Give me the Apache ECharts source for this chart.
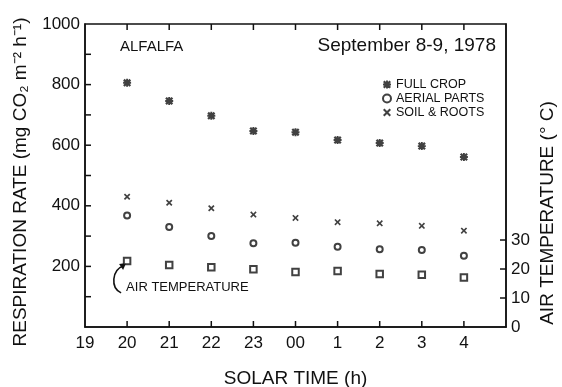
<!DOCTYPE html>
<html><head><meta charset="utf-8">
<script src="https://cdn.jsdelivr.net/npm/echarts@6/dist/echarts.min.js"></script>
<style>html,body{margin:0;padding:0;background:#fff}#c{width:562px;height:387px}</style>
</head><body><div id="c"></div>
<script>
// Data
var hours = [20, 21, 22, 23, 24, 25, 26, 27, 28];
var hourLabels = ['19','20','21','22','23','00','1','2','3','4'];
var fullCrop = [806, 746, 697, 647, 643, 617, 607, 597, 561];
var aerialParts = [368, 330, 300, 276, 278, 265, 257, 254, 235];
var soilRoots = [430, 410, 392, 371, 360, 346, 342, 334, 318];
var airTemp = [22.8, 21.4, 20.6, 19.9, 19.0, 19.3, 18.3, 18.0, 17.1];
var leftTicks = [200, 400, 600, 800, 1000];
var leftTickMarks = [100, 200, 300, 400, 500, 600, 700, 800, 900];
var rightTicks = [0, 10, 20, 30];
var rightTickMarks = [10, 20, 30];

var FONT = 'Liberation Sans, Arial, Helvetica, sans-serif';
var INK = '#111';
var starPath = 'path://M0,2 L2,0 L5,3 L8,0 L10,2 L7,5 L10,8 L8,10 L5,7 L2,10 L0,8 L3,5 Z M3.8,0 L6.2,0 L6.2,3.8 L10,3.8 L10,6.2 L6.2,6.2 L6.2,10 L3.8,10 L3.8,6.2 L0,6.2 L0,3.8 L3.8,3.8 Z';
var xPath = 'path://M0,1.8 L1.8,0 L5,3.2 L8.2,0 L10,1.8 L6.8,5 L10,8.2 L8.2,10 L5,6.8 L1.8,10 L0,8.2 L3.2,5 Z';

function pairs(vals){ return hours.map(function(h,i){ return [h, vals[i]]; }); }

var chart = echarts.init(document.getElementById('c'), null, {renderer:'canvas'});
function lineStyle(){ return {color: INK, width: 1.5}; }
var option = {
  animation: false,
  backgroundColor: '#fff',
  textStyle: {fontFamily: FONT, color: INK},
  grid: {left: 85, right: 56, top: 24, bottom: 60, show: true, borderColor: INK, borderWidth: 1.5,
    outerBoundsMode: 'none', containLabel: false},
  legend: {
    orient: 'vertical', left: 377, top: 73, itemGap: 1, itemWidth: 8, itemHeight: 8,
    textStyle: {fontFamily: FONT, fontSize: 12.5, color: INK},
    data: [
      {name: 'FULL CROP', icon: starPath},
      {name: 'AERIAL PARTS', icon: 'emptyCircle'},
      {name: 'SOIL & ROOTS', icon: xPath}
    ]
  },
  xAxis: {
    type: 'value', min: 19, max: 29, interval: 1, position: 'bottom',
    axisLine: {show: true, onZero: false, lineStyle: lineStyle()},
    axisTick: {show: false},
    axisLabel: {show: true, margin: 8, fontSize: 17, color: INK, fontFamily: FONT,
      formatter: function(v){ var i = Math.round(v) - 19; return i < hourLabels.length ? hourLabels[i] : ''; }},
    splitLine: {show: false},
    name: 'SOLAR TIME (h)', nameLocation: 'middle', nameGap: 42,
    nameTextStyle: {fontSize: 19, color: INK, fontFamily: FONT}
  },
  yAxis: [{
    type: 'value', min: 0, max: 1000, interval: 200, position: 'left',
    axisLine: {show: true, onZero: false, lineStyle: lineStyle()},
    axisTick: {show: false}, minorTick: {show: false},
    axisLabel: {margin: 5, fontSize: 17, color: INK, fontFamily: FONT,
      formatter: function(v){ return leftTicks.indexOf(v) >= 0 ? String(v) : ''; }},
    splitLine: {show: false}, minorSplitLine: {show: false}
  }, {
    type: 'value', min: 0, max: 104.5, interval: 10, position: 'right',
    axisLine: {show: true, onZero: false, lineStyle: lineStyle()},
    axisTick: {show: false},
    axisLabel: {margin: 5, fontSize: 17, color: INK, fontFamily: FONT,
      formatter: function(v){ return rightTicks.indexOf(v) >= 0 ? String(v) : ''; }},
    splitLine: {show: false}
  }],
  series: [{
    name: 'FULL CROP', type: 'scatter', symbol: starPath, symbolSize: 8,
    itemStyle: {color: INK}, data: pairs(fullCrop)
  }, {
    name: 'AERIAL PARTS', type: 'scatter', symbol: 'emptyCircle', symbolSize: 6,
    itemStyle: {color: INK, borderColor: INK, borderWidth: 1.6}, data: pairs(aerialParts)
  }, {
    name: 'SOIL & ROOTS', type: 'scatter', symbol: xPath, symbolSize: 6.5,
    itemStyle: {color: INK}, data: pairs(soilRoots)
  }, {
    name: 'AIR TEMPERATURE', type: 'scatter', yAxisIndex: 1, symbol: 'emptyRect', symbolSize: 6.5,
    itemStyle: {color: INK, borderColor: INK, borderWidth: 1.6}, data: pairs(airTemp)
  }]
};
chart.setOption(option);

// positions derived from the axes
function px(x, y, yi){ return chart.convertToPixel({xAxisIndex: 0, yAxisIndex: yi || 0}, [x, y]); }
var p0 = px(hours[0], airTemp[0], 1);
var boxTL = px(19, 1000);
var boxBR = px(29, 0);
var TL = 6;
var ticks = [];
function tick(x1, y1, x2, y2){
  ticks.push({type: 'line', silent: true, z: 50,
    shape: {x1: x1, y1: y1, x2: x2, y2: y2}, style: {stroke: INK, lineWidth: 1.5}});
}
hours.forEach(function(h){
  var b = px(h, 0); tick(b[0], b[1], b[0], b[1] - TL);
  var t = px(h, 1000); tick(t[0], t[1], t[0], t[1] + TL);
});
leftTickMarks.forEach(function(v){
  var l = px(19, v); tick(l[0], l[1], l[0] + TL, l[1]);
});
rightTickMarks.forEach(function(v){
  var r = px(29, v, 1); tick(r[0], r[1], r[0] - TL, r[1]);
});

chart.setOption({
  graphic: ticks.concat([
    {type: 'text', left: boxTL[0] + 35, top: boxTL[1] + 15,
      style: {text: 'ALFALFA', font: '15px ' + FONT, fill: INK}},
    {type: 'text', right: 562 - boxBR[0] + 10, top: boxTL[1] + 12,
      style: {text: 'September 8-9, 1978', font: '19px ' + FONT, fill: INK}},
    {type: 'text', x: 21, y: 182, rotation: Math.PI / 2,
      style: {text: 'RESPIRATION RATE (mg CO\u2082 m\u207B\u00B2 h\u207B\u00B9)', font: '19px ' + FONT, fill: INK, align: 'center', verticalAlign: 'middle'}},
    {type: 'text', x: 548, y: 213, rotation: Math.PI / 2,
      style: {text: 'AIR TEMPERATURE (\u00B0 C)', font: '19px ' + FONT, fill: INK, align: 'center', verticalAlign: 'middle'}},
    {type: 'text', x: p0[0] - 1, y: p0[1] + 27,
      style: {text: 'AIR TEMPERATURE', font: '13px ' + FONT, fill: INK, verticalAlign: 'middle'}},
    {type: 'bezierCurve', shape: {x1: p0[0] - 6, y1: p0[1] + 32, x2: p0[0] - 4, y2: p0[1] + 5,
      cpx1: p0[0] - 17, cpy1: p0[1] + 27, cpx2: p0[0] - 15, cpy2: p0[1] + 9},
      style: {stroke: INK, lineWidth: 1.6, fill: null}},
    {type: 'polygon', shape: {points: [[p0[0] - 1, p0[1] + 2], [p0[0] - 8, p0[1] + 3], [p0[0] - 4, p0[1] + 9]]},
      style: {fill: INK}}
  ])
});
</script></body></html>
